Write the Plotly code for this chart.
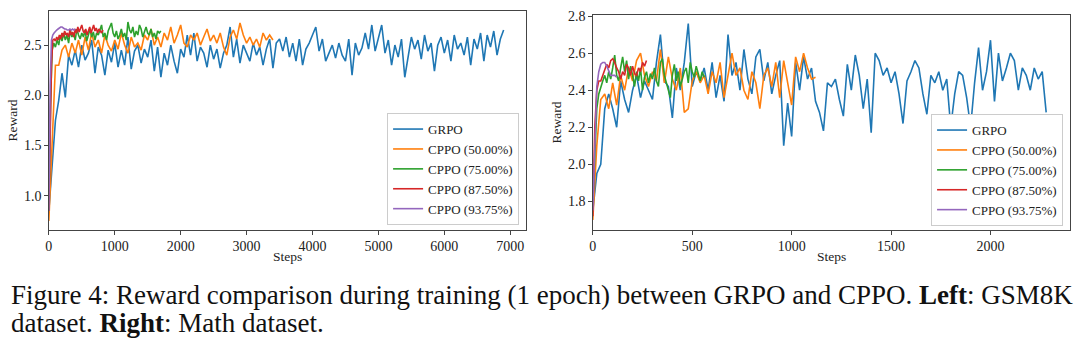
import plotly.graph_objects as go

# ---------------- data ----------------
series_names = ["GRPO", "CPPO (50.00%)", "CPPO (75.00%)", "CPPO (87.50%)", "CPPO (93.75%)"]
colors = ["#1f77b4", "#ff7f0e", "#2ca02c", "#d62728", "#9467bd"]

# Left panel (GSM8K): step spacing of each series
left_step = [50, 50, 25, 20, 20]
left_grpo = [
    0.85, 1.30, 1.75, 1.95, 2.22, 1.98, 2.40, 2.30, 2.45, 2.28,
    2.50, 2.35, 2.42, 2.55, 2.22, 2.48, 2.40, 2.20, 2.45, 2.33,
    2.52, 2.28, 2.45, 2.30, 2.58, 2.26, 2.44, 2.50, 2.32, 2.46,
    2.38, 2.55, 2.24, 2.48, 2.18, 2.42, 2.30, 2.50, 2.34, 2.22,
    2.46, 2.38, 2.60, 2.40, 2.62, 2.34, 2.48, 2.42, 2.28, 2.50,
    2.36, 2.46, 2.27, 2.42, 2.50, 2.68, 2.38, 2.56, 2.32, 2.50,
    2.42, 2.34, 2.52, 2.40, 2.48, 2.30, 2.46, 2.56, 2.27, 2.52,
    2.56, 2.44, 2.58, 2.38, 2.52, 2.34, 2.56, 2.30, 2.46, 2.52,
    2.60, 2.68, 2.44, 2.56, 2.34, 2.42, 2.50, 2.37, 2.52, 2.40,
    2.34, 2.56, 2.20, 2.52, 2.40, 2.47, 2.62, 2.46, 2.70, 2.44,
    2.58, 2.70, 2.42, 2.55, 2.30, 2.50, 2.38, 2.56, 2.18, 2.40,
    2.58, 2.46, 2.55, 2.36, 2.60, 2.44, 2.52, 2.24, 2.50, 2.58,
    2.42, 2.55, 2.34, 2.60, 2.46, 2.52, 2.40, 2.58, 2.30, 2.56,
    2.46, 2.62, 2.34, 2.60, 2.48, 2.64, 2.40, 2.56, 2.65,
]
left_cppo50 = [
    0.75, 1.60, 2.30, 2.30, 2.45, 2.50, 2.38, 2.52, 2.42, 2.55,
    2.40, 2.58, 2.45, 2.62, 2.48, 2.55, 2.42, 2.60, 2.50, 2.44,
    2.55, 2.46, 2.62, 2.50, 2.42, 2.58, 2.48, 2.52, 2.45, 2.60,
    2.55, 2.66, 2.50, 2.58, 2.48, 2.62, 2.55, 2.68, 2.52, 2.60,
    2.70, 2.52, 2.48, 2.60, 2.55, 2.62, 2.50, 2.58, 2.66, 2.54,
    2.60, 2.52, 2.62, 2.48, 2.40, 2.58, 2.65, 2.56, 2.72, 2.60,
    2.52, 2.58, 2.50, 2.56, 2.48, 2.62, 2.55, 2.60, 2.55,
]
left_cppo75 = [
    0.85, 1.90, 2.45, 2.52, 2.48, 2.55, 2.50, 2.60, 2.54, 2.62,
    2.55, 2.60, 2.52, 2.65, 2.58, 2.62, 2.55, 2.66, 2.60, 2.56,
    2.62, 2.58, 2.65, 2.54, 2.60, 2.66, 2.58, 2.63, 2.55, 2.62,
    2.60, 2.66, 2.70, 2.58, 2.62, 2.55, 2.64, 2.68, 2.72, 2.62,
    2.58, 2.64, 2.56, 2.60, 2.66, 2.58, 2.62, 2.55, 2.73, 2.65,
    2.62, 2.68, 2.58, 2.64, 2.60, 2.70, 2.66, 2.58, 2.64, 2.68,
    2.62, 2.60, 2.66, 2.58, 2.62, 2.56, 2.64, 2.62, 2.64,
]
left_cppo875 = [
    0.85, 1.60, 2.30, 2.55, 2.56, 2.54, 2.58, 2.55, 2.60, 2.56,
    2.62, 2.58, 2.64, 2.60, 2.62, 2.58, 2.65, 2.60, 2.63, 2.58,
    2.66, 2.62, 2.68, 2.63, 2.66, 2.70, 2.64, 2.62, 2.66, 2.60,
    2.64, 2.68, 2.62, 2.66, 2.70, 2.64, 2.67, 2.62, 2.66, 2.64,
    2.62, 2.65,
]
left_cppo9375 = [
    0.85, 2.10, 2.55, 2.60, 2.62, 2.64, 2.65, 2.66, 2.67, 2.68,
    2.68, 2.67, 2.66, 2.66, 2.65, 2.65, 2.66, 2.65, 2.66, 2.65, 2.66,
]

# Right panel (Math)
right_step = [20, 20, 10, 10, 10]
right_grpo = [
    1.75, 1.95, 2.00, 2.30, 2.38, 2.30, 2.20, 2.45, 2.35, 2.28,
    2.40, 2.48, 2.36, 2.45, 2.40, 2.35, 2.55, 2.70, 2.45, 2.42,
    2.25, 2.52, 2.40, 2.55, 2.76, 2.42, 2.50, 2.45, 2.52, 2.40,
    2.55, 2.36, 2.48, 2.34, 2.70, 2.48, 2.55, 2.40, 2.62, 2.46,
    2.38, 2.58, 2.62, 2.45, 2.55, 2.38, 2.48, 2.56, 2.10, 2.33,
    2.15, 2.55, 2.40, 2.58, 2.46, 2.52, 2.34, 2.28, 2.18, 2.44,
    2.42, 2.46, 2.35, 2.26, 2.54, 2.40, 2.59, 2.48, 2.30, 2.46,
    2.17, 2.60, 2.56, 2.48, 2.52, 2.44, 2.50, 2.38, 2.22, 2.45,
    2.50, 2.56, 2.52, 2.38, 2.27, 2.48, 2.44, 2.50, 2.40, 2.46,
    2.20, 2.38, 2.50, 2.48, 2.36, 2.20, 2.44, 2.63, 2.40, 2.50,
    2.67, 2.34, 2.60, 2.45, 2.52, 2.60, 2.56, 2.40, 2.52, 2.48,
    2.40, 2.52, 2.46, 2.50, 2.28,
]
right_cppo50 = [
    1.70, 2.10, 2.35, 2.38, 2.30, 2.44, 2.32, 2.48, 2.40, 2.52,
    2.45, 2.56, 2.60, 2.48, 2.42, 2.50, 2.45, 2.62, 2.44, 2.58,
    2.46, 2.40, 2.52, 2.28, 2.30, 2.45, 2.50, 2.44, 2.48, 2.38,
    2.50, 2.44, 2.55, 2.36, 2.48, 2.60, 2.48, 2.52, 2.40, 2.35,
    2.50, 2.44, 2.30, 2.48, 2.52, 2.42, 2.55, 2.36, 2.56, 2.44,
    2.32, 2.58, 2.50, 2.60, 2.52, 2.46, 2.47,
]
right_cppo75 = [
    1.78, 2.10, 2.30, 2.38, 2.42, 2.45, 2.48, 2.44, 2.50, 2.46,
    2.52, 2.59, 2.48, 2.45, 2.52, 2.58, 2.50, 2.56, 2.46, 2.53,
    2.48, 2.42, 2.50, 2.45, 2.52, 2.40, 2.47, 2.50, 2.44, 2.49,
    2.46, 2.52, 2.45, 2.42, 2.55, 2.57, 2.48, 2.44, 2.40, 2.36,
    2.48, 2.54, 2.45, 2.50, 2.42, 2.46, 2.50, 2.52, 2.44, 2.55,
    2.50, 2.47, 2.53, 2.49, 2.45, 2.50, 2.47,
]
right_cppo875 = [
    1.72, 2.20, 2.40, 2.45, 2.45, 2.48, 2.50, 2.54, 2.52, 2.56,
    2.57, 2.55, 2.52, 2.50, 2.46, 2.50, 2.48, 2.54, 2.52, 2.48,
    2.53, 2.49, 2.48, 2.52, 2.50, 2.55, 2.53, 2.56,
]
right_cppo9375 = [
    1.75, 2.15, 2.42, 2.50, 2.54, 2.55, 2.55, 2.53, 2.50, 2.48,
    2.48, 2.48, 2.47,
]

left_ticks = [0, 1000, 2000, 3000, 4000, 5000, 6000, 7000]
right_ticks = [0, 500, 1000, 1500, 2000]

caption_line1 = ("Figure 4: Reward comparison during training (1 epoch) between GRPO and CPPO. "
                 "<b>Left</b>: GSM8K")
caption_line2 = "dataset. <b>Right</b>: Math dataset."

# ---------------- figure ----------------
W, H = 1080, 344
FONT = "Liberation Serif"
AX = "#444444"

def px_x(p):
    return p / W

def px_y(p):
    return 1 - p / H

fig = go.Figure()

left_data = [left_grpo, left_cppo50, left_cppo75, left_cppo875, left_cppo9375]
right_data = [right_grpo, right_cppo50, right_cppo75, right_cppo875, right_cppo9375]

for i, (name, vals) in enumerate(zip(series_names, left_data)):
    fig.add_trace(go.Scatter(
        x=[k * left_step[i] for k in range(len(vals))], y=vals,
        mode="lines", name=name, line=dict(color=colors[i], width=1.6),
        xaxis="x", yaxis="y", legend="legend"))

for i, (name, vals) in enumerate(zip(series_names, right_data)):
    fig.add_trace(go.Scatter(
        x=[k * right_step[i] for k in range(len(vals))], y=vals,
        mode="lines", name=name, line=dict(color=colors[i], width=1.6),
        xaxis="x2", yaxis="y2", legend="legend2"))

axis_common = dict(
    showline=True, mirror=True, linecolor=AX, linewidth=1,
    ticks="outside", ticklen=3.5, tickcolor=AX, tickwidth=1,
    showgrid=False, zeroline=False,
    tickfont=dict(family=FONT, size=14, color="#222"),
)
title_font = dict(family=FONT, size=13.5, color="#222")

L_DOM = [px_x(45), px_x(524)]
R_DOM = [px_x(591), px_x(1070)]

fig.update_layout(
    width=W, height=H,
    margin=dict(l=0, r=0, t=0, b=0),
    paper_bgcolor="white", plot_bgcolor="white",
    font=dict(family=FONT, size=13, color="#222"),
    xaxis=dict(domain=L_DOM, range=[0, 7240], tickvals=left_ticks, anchor="y",
               **axis_common),
    yaxis=dict(domain=[px_y(228), px_y(5)], range=[0.66, 2.84],
               dtick=0.5, tick0=0, tickformat=".1f", anchor="x",
               title=dict(text="Reward", standoff=3, font=title_font),
               **axis_common),
    xaxis2=dict(domain=R_DOM, range=[0, 2400], tickvals=right_ticks, anchor="y2",
                **axis_common),
    yaxis2=dict(domain=[px_y(228), px_y(9)], range=[1.645, 2.807],
                dtick=0.2, tick0=0, tickformat=".1f", anchor="x2",
                title=dict(text="Reward", standoff=3, font=title_font),
                **axis_common),
    legend=dict(x=px_x(517), y=px_y(223), xanchor="right", yanchor="bottom",
                bgcolor="white", bordercolor="#cccccc", borderwidth=1,
                font=dict(family=FONT, size=13, color="#222"),
                tracegroupgap=0, itemwidth=30),
    legend2=dict(x=px_x(1063), y=px_y(224), xanchor="right", yanchor="bottom",
                 bgcolor="white", bordercolor="#cccccc", borderwidth=1,
                 font=dict(family=FONT, size=13, color="#222"),
                 tracegroupgap=0, itemwidth=30),
    annotations=[
        dict(text="Steps", xref="paper", yref="paper",
             x=(L_DOM[0] + L_DOM[1]) / 2, y=px_y(255),
             xanchor="center", yanchor="middle", showarrow=False, font=title_font),
        dict(text="Steps", xref="paper", yref="paper",
             x=(R_DOM[0] + R_DOM[1]) / 2, y=px_y(255),
             xanchor="center", yanchor="middle", showarrow=False, font=title_font),
        dict(text=caption_line1, xref="paper", yref="paper", x=px_x(5), y=px_y(294),
             xanchor="left", yanchor="middle", showarrow=False,
             font=dict(family=FONT, size=27, color="#111")),
        dict(text=caption_line2, xref="paper", yref="paper", x=px_x(5), y=px_y(323),
             xanchor="left", yanchor="middle", showarrow=False,
             font=dict(family=FONT, size=27, color="#111")),
    ],
)

fig.write_html("out.html")
